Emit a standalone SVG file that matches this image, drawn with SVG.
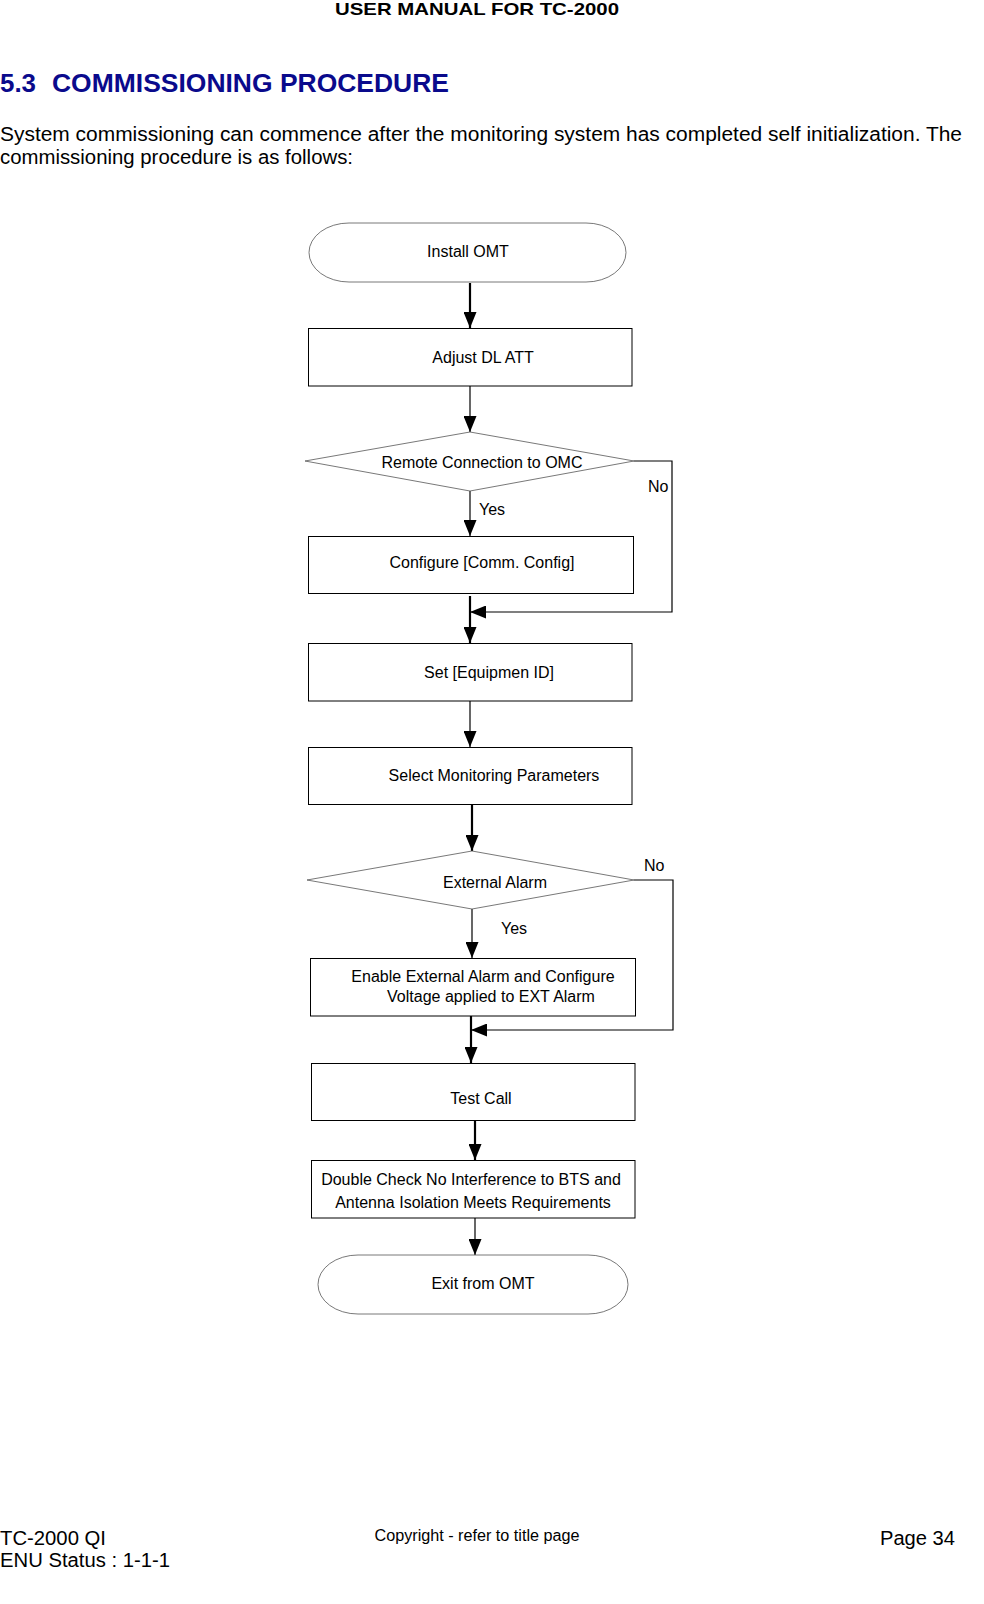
<svg xmlns="http://www.w3.org/2000/svg" width="984" height="1604" viewBox="0 0 984 1604">
<style>
text{font-family:"Liberation Sans",Arial,sans-serif;fill:#000}
.page{font-size:20px}
.lbl{font-size:16px}
.mid{text-anchor:middle}
.box{fill:#fff;stroke:#000;stroke-width:1}
.term{fill:#fff;stroke:#555;stroke-width:0.8}
.dia{fill:#fff;stroke:#555;stroke-width:0.8}
.thin{stroke:#000;stroke-width:1.2;fill:none}
.thick{stroke:#000;stroke-width:2.2;fill:none}
</style>
<defs>
<marker id="ah" markerUnits="userSpaceOnUse" markerWidth="16" markerHeight="13" refX="16" refY="6.5" viewBox="0 0 16 13" orient="auto">
<polygon points="0,0 16,6.5 0,13" fill="#000"/>
</marker>
</defs>
<rect width="984" height="1604" fill="#fff"/>
<g id="page-text">
<text x="477" y="15" class="mid" style="font-size:17px;font-weight:bold" textLength="284" lengthAdjust="spacingAndGlyphs">USER MANUAL FOR TC-2000</text>
<text x="0" y="92" style="font-size:26px;font-weight:bold;fill:#0a0a8c" textLength="36" lengthAdjust="spacingAndGlyphs">5.3</text>
<text x="52" y="92" style="font-size:26px;font-weight:bold;fill:#0a0a8c" textLength="397" lengthAdjust="spacingAndGlyphs">COMMISSIONING PROCEDURE</text>
<text x="0" y="141" class="page" textLength="962" lengthAdjust="spacingAndGlyphs">System commissioning can commence after the monitoring system has completed self initialization. The</text>
<text x="0" y="164" class="page" textLength="353" lengthAdjust="spacingAndGlyphs">commissioning procedure is as follows:</text>
<text x="0" y="1545" style="font-size:20px" textLength="106" lengthAdjust="spacingAndGlyphs">TC-2000 QI</text>
<text x="0" y="1567" style="font-size:20px" textLength="170" lengthAdjust="spacingAndGlyphs">ENU Status : 1-1-1</text>
<text x="477" y="1541" class="mid" style="font-size:16px" textLength="205" lengthAdjust="spacingAndGlyphs">Copyright - refer to title page</text>
<text x="955" y="1545" style="font-size:20px;text-anchor:end" textLength="75" lengthAdjust="spacingAndGlyphs">Page 34</text>
</g>
<g id="connectors">
<line class="thick" x1="470" y1="283" x2="470" y2="328" marker-end="url(#ah)"/>
<line class="thin" x1="470" y1="386" x2="470" y2="432" marker-end="url(#ah)"/>
<line class="thin" x1="470" y1="491" x2="470" y2="536" marker-end="url(#ah)"/>
<polyline class="thin" points="634,461 672,461 672,612 470,612" marker-end="url(#ah)"/>
<line class="thick" x1="470" y1="596" x2="470" y2="643" marker-end="url(#ah)"/>
<line class="thin" x1="470" y1="701" x2="470" y2="747" marker-end="url(#ah)"/>
<line class="thick" x1="472" y1="804" x2="472" y2="851" marker-end="url(#ah)"/>
<line class="thin" x1="472" y1="909" x2="472" y2="958" marker-end="url(#ah)"/>
<polyline class="thin" points="634,880 673,880 673,1030 471,1030" marker-end="url(#ah)"/>
<line class="thick" x1="471" y1="1016" x2="471" y2="1063" marker-end="url(#ah)"/>
<line class="thick" x1="475" y1="1120" x2="475" y2="1160" marker-end="url(#ah)"/>
<line class="thin" x1="475" y1="1218" x2="475" y2="1255" marker-end="url(#ah)"/>
<text x="648" y="492" class="lbl">No</text>
<text x="479" y="515" class="lbl">Yes</text>
<text x="644" y="871" class="lbl">No</text>
<text x="501" y="934" class="lbl">Yes</text>
</g>
<g id="install-omt">
<rect class="term" x="309" y="223" width="317" height="59" rx="40" ry="29.5"/>
<text x="468" y="257" class="lbl mid">Install OMT</text>
</g>
<g id="adjust-dl-att">
<rect class="box" x="308.5" y="328.5" width="323.5" height="57.5"/>
<text x="483" y="363" class="lbl mid">Adjust DL ATT</text>
</g>
<g id="remote-connection">
<polygon class="dia" points="305,461 470,432 634,461 470,491"/>
<text x="482" y="468" class="lbl mid">Remote Connection to OMC</text>
</g>
<g id="configure-comm">
<rect class="box" x="308.5" y="536.5" width="325" height="57"/>
<text x="482" y="568" class="lbl mid">Configure [Comm. Config]</text>
</g>
<g id="set-equipment-id">
<rect class="box" x="308.5" y="643.5" width="323.5" height="57.5"/>
<text x="489" y="678" class="lbl mid">Set [Equipmen ID]</text>
</g>
<g id="select-monitoring">
<rect class="box" x="308.5" y="747.5" width="323.5" height="57"/>
<text x="494" y="781" class="lbl mid">Select Monitoring Parameters</text>
</g>
<g id="external-alarm">
<polygon class="dia" points="307,880 472,851 634,880 472,909"/>
<text x="495" y="888" class="lbl mid">External Alarm</text>
</g>
<g id="enable-ext-alarm">
<rect class="box" x="310.5" y="958.5" width="325" height="57.5"/>
<text x="483" y="982" class="lbl mid">Enable External Alarm and Configure</text>
<text x="491" y="1002" class="lbl mid">Voltage applied to EXT Alarm</text>
</g>
<g id="test-call">
<rect class="box" x="311.5" y="1063.5" width="323.5" height="57"/>
<text x="481" y="1104" class="lbl mid">Test Call</text>
</g>
<g id="double-check">
<rect class="box" x="311.5" y="1160.5" width="323.5" height="57.5"/>
<text x="471" y="1185" class="lbl mid">Double Check No Interference to BTS and</text>
<text x="473" y="1208" class="lbl mid">Antenna Isolation Meets Requirements</text>
</g>
<g id="exit-omt">
<rect class="term" x="318" y="1255" width="310" height="59" rx="40" ry="29.5"/>
<text x="483" y="1289" class="lbl mid">Exit from OMT</text>
</g>
</svg>
